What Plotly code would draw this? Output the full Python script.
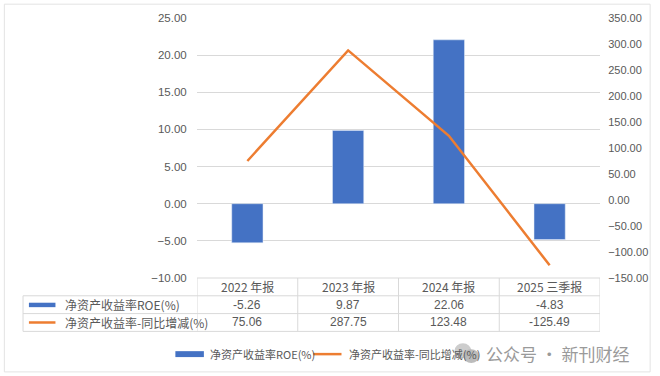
import plotly.graph_objects as go

categories = ["2022 年报", "2023 年报", "2024 年报", "2025 三季报"]
roe = [-5.26, 9.87, 22.06, -4.83]
roe_yoy = [75.06, 287.75, 123.48, -125.49]
roe_labels = ["-5.26", "9.87", "22.06", "-4.83"]
yoy_labels = ["75.06", "287.75", "123.48", "-125.49"]
name_roe = "净资产收益率ROE(%)"
name_yoy = "净资产收益率-同比增减(%)"

W, H = 660, 376
L, R, T, B = 197, 607, 15, 278
BLUE = "#4472C4"
ORANGE = "#ED7D31"
GRID = "#D9D9D9"
TXT = "#595959"
FONT = "Liberation Sans, Noto Sans CJK SC, sans-serif"
CJK = "Noto Sans CJK SC, Liberation Sans, sans-serif"


def px(x):
    return (x - L) / (R - L)


def py(y):
    return (B - y) / (B - T)


fig = go.Figure()
fig.add_trace(go.Bar(x=categories, y=roe, name=name_roe, marker_color=BLUE,
                     width=0.31, yaxis="y", showlegend=False))
fig.add_trace(go.Scatter(x=categories, y=roe_yoy, name=name_yoy, mode="lines",
                         line=dict(color=ORANGE, width=2.5), yaxis="y2",
                         showlegend=False))

shapes = []
annotations = []
line_style = dict(color=GRID, width=1)


def note(x, xref, y, text, font, xanchor="center"):
    annotations.append(dict(x=x, xref=xref, y=y, yref="paper", text=text,
                            xanchor=xanchor, yanchor="middle", showarrow=False,
                            font=font))


# table horizontal lines
shapes.append(dict(type="line", xref="paper", yref="paper", x0=px(L), x1=px(R),
                   y0=py(278), y1=py(278), line=line_style))
for yy in (296, 314, 332):
    shapes.append(dict(type="line", xref="paper", yref="paper", x0=px(20), x1=px(R),
                       y0=py(yy), y1=py(yy), line=line_style))
# vertical lines
shapes.append(dict(type="line", xref="paper", yref="paper", x0=px(20), x1=px(20),
                   y0=py(296), y1=py(332), line=line_style))
for i in range(len(categories) + 1):
    shapes.append(dict(type="line", xref="x", yref="paper", x0=i - 0.5, x1=i - 0.5,
                       y0=py(278), y1=py(332), line=line_style))

# table text
for i, c in enumerate(categories):
    note(c, "x", py(287), c, dict(family=CJK, size=12, color=TXT))
    note(c, "x", py(305), roe_labels[i], dict(family=FONT, size=12, color=TXT))
    note(c, "x", py(323), yoy_labels[i], dict(family=FONT, size=12, color=TXT))

# table legend keys
shapes.append(dict(type="rect", xref="paper", yref="paper", x0=px(26), x1=px(53),
                   y0=py(303), y1=py(307.5), fillcolor=BLUE, line=dict(width=0)))
shapes.append(dict(type="line", xref="paper", yref="paper", x0=px(26), x1=px(53),
                   y0=py(323), y1=py(323), line=dict(color=ORANGE, width=2.5)))
note(px(61), "paper", py(305), name_roe, dict(family=CJK, size=12, color=TXT), "left")
note(px(61), "paper", py(323), name_yoy, dict(family=CJK, size=12, color=TXT), "left")

# bottom legend
shapes.append(dict(type="rect", xref="paper", yref="paper", x0=px(175), x1=px(204),
                   y0=py(352), y1=py(358), fillcolor=BLUE, line=dict(width=0)))
note(px(208), "paper", py(355), name_roe, dict(family=CJK, size=11, color=TXT), "left")
shapes.append(dict(type="line", xref="paper", yref="paper", x0=px(315), x1=px(344),
                   y0=py(355), y1=py(355), line=dict(color=ORANGE, width=2.5)))
note(px(350), "paper", py(355), name_yoy, dict(family=CJK, size=11, color=TXT), "left")

# watermark
shapes.append(dict(type="circle", xref="paper", yref="paper", x0=px(459), x1=px(476),
                   y0=py(344), y1=py(359), fillcolor="#C8C8C8", line=dict(width=0),
                   opacity=0.9))
shapes.append(dict(type="circle", xref="paper", yref="paper", x0=px(468), x1=px(484),
                   y0=py(350), y1=py(364), fillcolor="#B5B5B5", line=dict(width=0),
                   opacity=0.9))
note(px(489), "paper", py(354), "公众号 · 新刊财经",
     dict(family=CJK, size=17, color="#9A9A9A"), "left")

# outer frame
shapes.append(dict(type="rect", xref="paper", yref="paper", x0=px(1), x1=px(658),
                   y0=py(1), y1=py(373), line=dict(color="#E3E3E3", width=1),
                   layer="below"))

fig.update_layout(
    width=W, height=H,
    margin=dict(l=L, r=W - R, t=T, b=H - B, pad=0),
    paper_bgcolor="white", plot_bgcolor="white",
    shapes=shapes, annotations=annotations,
    xaxis=dict(range=[-0.5, 3.5], showticklabels=False, showgrid=False,
               zeroline=False, showline=False, ticks=""),
    yaxis=dict(range=[-10, 25], dtick=5, tickformat=".2f", showgrid=True,
               gridcolor=GRID, gridwidth=1, zeroline=False, showline=False,
               ticks="outside", ticklen=7, tickcolor="white",
               tickfont=dict(family=FONT, size=11.5, color=TXT)),
    yaxis2=dict(range=[-150, 350], dtick=50, tickformat=".2f", overlaying="y",
                side="right", showgrid=False, zeroline=False, showline=False,
                ticks="outside", ticklen=5, tickcolor="white",
                tickfont=dict(family=FONT, size=11, color=TXT)),
    showlegend=False,
)

fig.write_html("out.html", config={"displayModeBar": False},
               post_script="document.body.style.margin='0';document.body.style.overflow='hidden';")
